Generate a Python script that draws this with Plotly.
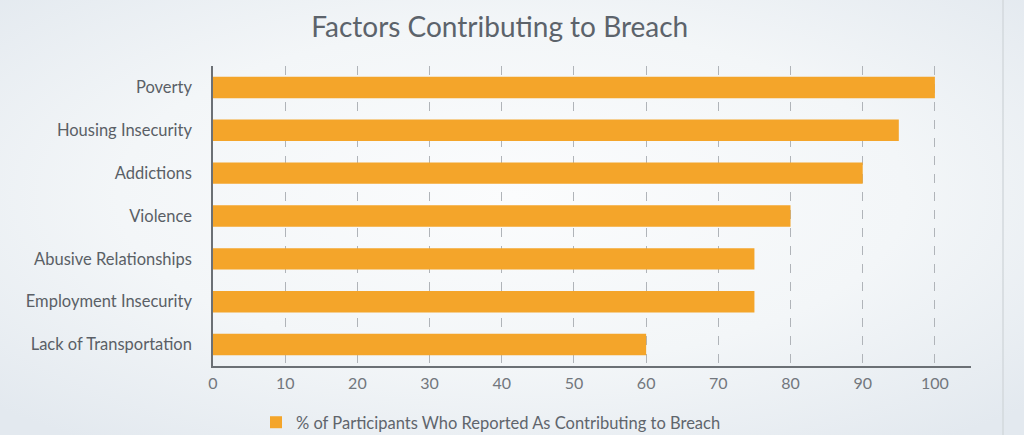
import base64
import plotly.graph_objects as go

categories = ["Poverty", "Housing Insecurity", "Addictions", "Violence",
              "Abusive Relationships", "Employment Insecurity", "Lack of Transportation"]
values = [100, 95, 90, 80, 75, 75, 60]
series_name = "% of Participants Who Reported As Contributing to Breach"
tick_vals = [0, 10, 20, 30, 40, 50, 60, 70, 80, 90, 100]

W, H = 1024, 435
L, R, T, B = 213, 53, 66, 69
pw, ph = W - L - R, H - T - B

svg = f'''<svg xmlns="http://www.w3.org/2000/svg" width="{W}" height="{H}">
<defs><radialGradient id="g" cx="50%" cy="45%" r="70%">
<stop offset="0%" stop-color="#fbfcfd"/><stop offset="55%" stop-color="#f3f6f8"/>
<stop offset="100%" stop-color="#e3e9ef"/></radialGradient></defs>
<rect width="{W}" height="{H}" fill="url(#g)"/></svg>'''
src = "data:image/svg+xml;base64," + base64.b64encode(svg.encode()).decode()

fig = go.Figure()
fig.add_trace(go.Bar(
    x=values, y=categories, orientation="h", name=series_name,
    marker=dict(color="#F4A52A", line=dict(width=0)), width=0.5,
    showlegend=True,
))

fig.update_layout(
    width=W, height=H,
    margin=dict(l=L, r=R, t=T, b=B),
    paper_bgcolor="#f1f4f7", plot_bgcolor="rgba(0,0,0,0)",
    font=dict(family="Lato, sans-serif", color="#5f656c"),
    title=dict(text="Factors Contributing to Breach", x=0.488, xanchor="center",
               y=1 - 27 / H, yanchor="middle",
               font=dict(size=28, color="#5c636b", family="Lato")),
    xaxis=dict(range=[0, 105], tickvals=tick_vals, showgrid=True,
               gridcolor="#b0b4b9", griddash="dash", gridwidth=1,
               showline=True, linecolor="#6b7075", linewidth=1.5,
               zeroline=False, ticks="", tickfont=dict(size=16, color="#72777d"),
               ticklabelstandoff=2),
    yaxis=dict(autorange="reversed", showline=True, linecolor="#6b7075",
               linewidth=1.5, ticks="", showgrid=False,
               tickfont=dict(size=16.5, color="#5a5f66"), ticklabelstandoff=16),
    bargap=0.5,
    legend=dict(orientation="h", xref="container", yref="container",
                x=256 / W, xanchor="left", y=1 - 405 / H, yanchor="top",
                font=dict(size=16.5, color="#5f656c"), bgcolor="rgba(0,0,0,0)"),
    images=[dict(source=src, xref="paper", yref="paper",
                 x=-L / pw, y=1 + T / ph, sizex=W / pw, sizey=H / ph,
                 sizing="stretch", xanchor="left", yanchor="top", layer="below")],
    shapes=[dict(type="line", xref="paper", yref="paper",
                 x0=(1003 - L) / pw, x1=(1003 - L) / pw, y0=-B / ph, y1=1 + T / ph,
                 line=dict(color="#d3d8dd", width=1.5))],
)

fig.write_html("out.html", config={"displayModeBar": False},
               post_script="document.body.style.margin='0';")
